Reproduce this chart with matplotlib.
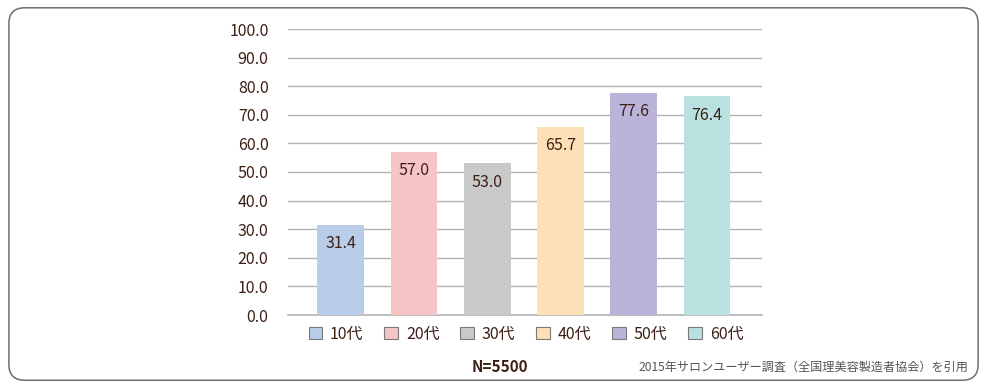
import matplotlib.pyplot as plt
from matplotlib.patches import FancyBboxPatch, Patch

plt.rcParams['font.family'] = ['Noto Sans CJK JP', 'DejaVu Sans']

ages = ['10代', '20代', '30代', '40代', '50代', '60代']
rates = [31.4, 57.0, 53.0, 65.7, 77.6, 76.4]
colors = ['#b9cde8', '#f7c5c6', '#c9c9c9', '#fde1b6', '#bab3da', '#b8e1df']
yticks = [0, 10, 20, 30, 40, 50, 60, 70, 80, 90, 100]

TEXT = '#3d1f15'

fig = plt.figure(figsize=(9.88, 3.9), dpi=100)

# rounded frame round the chart
frame = FancyBboxPatch((0.009, 0.025), 0.981, 0.955,
                       boxstyle='round,pad=0,rounding_size=0.016',
                       transform=fig.transFigure, fill=False,
                       edgecolor='#6e6e6e', linewidth=1.1,
                       mutation_aspect=988 / 390)
fig.patches.append(frame)

ax = fig.add_axes([288 / 988, 1 - 315 / 390, (762 - 288) / 988, (315 - 29) / 390])
x = range(len(ages))
bars = ax.bar(x, rates, width=0.64, color=colors, zorder=3)

for xi, v in zip(x, rates):
    ax.text(xi, v - 6.5, f'{v:.1f}', ha='center', va='center',
            fontsize=11.5, color=TEXT, zorder=4)

ax.set_ylim(0, 100)
ax.set_xlim(-0.72, 5.75)
ax.set_yticks(yticks)
ax.set_yticklabels([f'{t:.1f}' for t in yticks], fontsize=11.5, color=TEXT)
ax.set_xticks([])
ax.tick_params(axis='y', length=0, pad=14)
ax.grid(axis='y', color='#b3b3b3', linewidth=1.0, zorder=0)
for s in ['top', 'right', 'left']:
    ax.spines[s].set_visible(False)
ax.spines['bottom'].set_color('#b3b3b3')
ax.spines['bottom'].set_linewidth(1.2)

handles = [Patch(facecolor=c, edgecolor='#7a7a7a', linewidth=0.8) for c in colors]
fig.legend(handles, ages, loc='center', bbox_to_anchor=(526 / 988, 1 - 334 / 390),
           ncol=6, frameon=False, fontsize=11.5, handlelength=0.85, handleheight=0.85,
           handletextpad=0.5, columnspacing=1.3, labelcolor=TEXT)

fig.text(500 / 988, 1 - 367 / 390, 'N=5500', ha='center', va='center',
         fontsize=11, fontweight='bold', color=TEXT)
fig.text(968 / 988, 1 - 367 / 390, '2015年サロンユーザー調査（全国理美容製造者協会）を引用',
         ha='right', va='center', fontsize=8.7, color='#555555')

fig.savefig('out.png', dpi=100)
